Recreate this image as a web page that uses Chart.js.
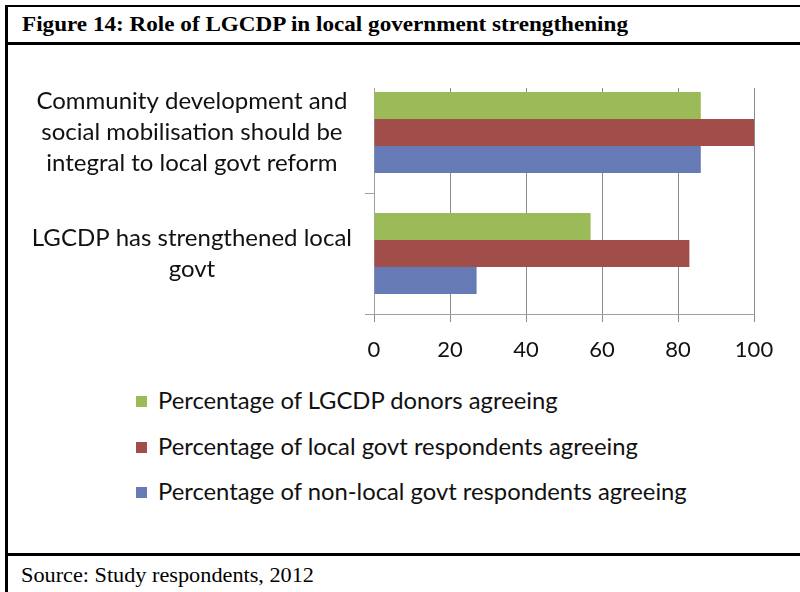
<!DOCTYPE html>
<html>
<head>
<meta charset="utf-8">
<script src="https://cdn.jsdelivr.net/npm/chart.js@4.4.0/dist/chart.umd.min.js"></script>
<style>
  html, body { margin: 0; padding: 0; background: #fff; width: 800px; height: 592px; overflow: hidden; }
  .line { position: absolute; background: #000; }
  #title { position: absolute; left: 22px; top: 11px; font-family: "Liberation Serif", serif; font-weight: bold; font-size: 22px; line-height: 26px; white-space: nowrap; transform-origin: 0 0; }
  #source { position: absolute; left: 21px; top: 562px; font-family: "Liberation Serif", serif; font-size: 22px; line-height: 26px; white-space: nowrap; transform-origin: 0 0; }
  #chartBox { position: absolute; left: 7px; top: 48px; width: 790px; height: 330px; }
  #legend { position: absolute; left: 136px; top: 385px; font-family: Lato, "Open Sans", sans-serif; font-size: 23.8px; line-height: 30px; color: #111; }
  #legend .item { height: 45.5px; display: flex; align-items: flex-start; white-space: nowrap; }
  #legend .sw { width: 11px; height: 11px; margin-right: 11px; margin-top: 11px; flex: none; }
</style>
</head>
<body>
<div class="line" style="left:5px; top:5px; width:795px; height:2px;"></div>
<div class="line" style="left:5px; top:5px; width:3px; height:587px;"></div>
<div class="line" style="left:5px; top:42px; width:795px; height:3px;"></div>
<div class="line" style="left:5px; top:553px; width:795px; height:3px;"></div>
<div id="title">Figure 14: Role of LGCDP in local government strengthening</div>
<div id="chartBox"><canvas id="c" width="790" height="330"></canvas></div>
<div id="legend"></div>
<div id="source">Source: Study respondents, 2012</div>
<script>
// ---- data ----
const categories = [
  ["Community development and", "social mobilisation should be", "integral to local govt reform"],
  ["LGCDP has strengthened local", "govt"]
];
const seriesNames = [
  "Percentage of LGCDP donors agreeing",
  "Percentage of local govt respondents agreeing",
  "Percentage of non-local govt respondents agreeing"
];
const donorsAgreeing = [86, 57];
const localGovtAgreeing = [100, 83];
const nonLocalGovtAgreeing = [86, 27];
const xTicks = [0, 20, 40, 60, 80, 100];

const colors = ["#9BBB59", "#A14E4B", "#667AB5"];
const seriesValues = [donorsAgreeing, localGovtAgreeing, nonLocalGovtAgreeing];

function fitWidth(id, target) {
  const t = document.getElementById(id);
  const w = t.getBoundingClientRect().width;
  t.style.transform = 'scaleX(' + (target / w) + ')';
}
fitWidth('title', 606);
fitWidth('source', 293);

// legend
const lg = document.getElementById('legend');
seriesNames.forEach((n, i) => {
  const d = document.createElement('div'); d.className = 'item';
  const s = document.createElement('span'); s.className = 'sw'; s.style.background = colors[i];
  const t = document.createElement('span'); t.textContent = n;
  d.appendChild(s); d.appendChild(t); lg.appendChild(d);
});

const FONT = "Lato, 'Open Sans', sans-serif";

const topClip = {
  id: 'topClip',
  beforeDatasetsDraw(chart) {
    const ca = chart.chartArea, ctx = chart.ctx;
    ctx.save();
    ctx.fillStyle = '#fff';
    ctx.fillRect(ca.left - 12, ca.top - 2, ca.right - ca.left + 20, 18);
    ctx.restore();
  }
};

new Chart(document.getElementById('c'), {
  type: 'bar',
  data: {
    labels: categories,
    datasets: seriesNames.map((n, i) => ({
      label: n,
      data: seriesValues[i],
      backgroundColor: colors[i],
      borderWidth: 0,
      categoryPercentage: 0.67,
      barPercentage: 1.0
    }))
  },
  options: {
    indexAxis: 'y',
    responsive: false,
    animation: false,
    devicePixelRatio: 1,
    layout: { padding: { top: 24, right: 43, bottom: 14, left: 0 } },
    plugins: { legend: { display: false }, tooltip: { enabled: false } },
    scales: {
      x: {
        min: 0, max: 100,
        afterBuildTicks(scale) { scale.ticks = xTicks.map(v => ({ value: v })); },
        afterFit(scale) { scale.height = 50; scale.paddingLeft = 0; scale.paddingRight = 0; },
        ticks: { font: { family: FONT, size: 22 }, color: '#111', padding: 15 },
        grid: { color: '#8a8a8a', lineWidth: 1, tickLength: 8, drawOnChartArea: true },
        border: { color: '#a0a0a0', width: 1 }
      },
      y: {
        afterFit(scale) { scale.width = 367; scale.paddingTop = 0; scale.paddingBottom = 0; },
        ticks: { font: { family: FONT, size: 24, lineHeight: 1.29 }, color: '#111', crossAlign: 'center', padding: 13 },
        grid: { drawOnChartArea: false, color: '#a0a0a0', tickLength: 9, offset: true },
        border: { color: '#a0a0a0', width: 1 }
      }
    }
  },
  plugins: [topClip]
});
</script>
</body>
</html>
